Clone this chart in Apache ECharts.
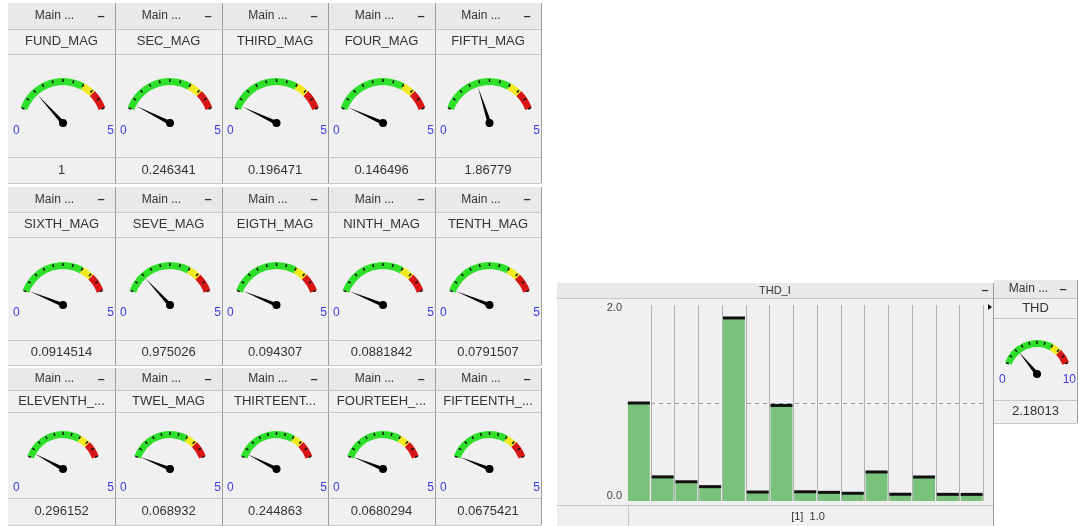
<!DOCTYPE html>
<html>
<head>
<meta charset="utf-8">
<script src="https://cdn.jsdelivr.net/npm/echarts@6/dist/echarts.min.js"></script>
<style>
  html, body { margin: 0; background: #fff; }
  #chart { width: 1078px; height: 526px; }
</style>
</head>
<body>
<div id="chart"></div>
<script>
// harmonic magnitudes (gauges + THD_I bars)
const magNames = ['FUND_MAG', 'SEC_MAG', 'THIRD_MAG', 'FOUR_MAG', 'FIFTH_MAG',
  'SIXTH_MAG', 'SEVE_MAG', 'EIGTH_MAG', 'NINTH_MAG', 'TENTH_MAG',
  'ELEVENTH_...', 'TWEL_MAG', 'THIRTEENT...', 'FOURTEEH_...', 'FIFTEENTH_...'];
const magValues = [1, 0.246341, 0.196471, 0.146496, 1.86779,
  0.0914514, 0.975026, 0.094307, 0.0881842, 0.0791507,
  0.296152, 0.068932, 0.244863, 0.0680294, 0.0675421];
const magMin = 0;
const magMax = 5;

const thdName = 'THD';
const thdValue = 2.18013;
const thdMax = 10;

const barTitle = 'THD_I';
const barCategories = ['1', '2', '3', '4', '5', '6', '7', '8', '9', '10', '11', '12', '13', '14', '15'];
const yTickLabels = ['0.0', '', '2.0'];
const footerText = '[1]  1.0';
const panelHeader = 'Main ...';

const FONT = '"Liberation Sans", Arial, sans-serif';
const BG = '#f0f0f0';
const HDR = '#e9e9e9';
const LINE = '#c6c6c6';
const BORDER = '#9c9c9c';
const LABEL_BLUE = '#3c3ce0';

// grid of gauge panels
const colX = [8, 115, 222, 328, 435, 541];
const rows = [
  { top: 3, hdr: 29, ttl: 54, val: 157, bot: 183, py: 123, r: 45, ly: 131 },
  { top: 187, hdr: 212, ttl: 237, val: 340, bot: 365, py: 305, r: 43, ly: 313 },
  { top: 368, hdr: 390, ttl: 412, val: 498, bot: 525, py: 469, r: 38, ly: 488 }
];

const graphics = [];
const series = [];

function txt(x, y, text, opts) {
  opts = opts || {};
  graphics.push({
    type: 'text', x: x, y: y, z: 10,
    style: {
      text: text,
      fill: opts.color || '#333',
      font: (opts.weight || 'normal') + ' ' + (opts.size || 12) + 'px ' + FONT,
      textAlign: opts.align || 'center', align: opts.align || 'center',
      textVerticalAlign: 'middle', verticalAlign: 'middle'
    }
  });
}
function rect(x0, y0, x1, y1, fill) {
  graphics.push({ type: 'rect', z: 0, shape: { x: x0, y: y0, width: x1 - x0, height: y1 - y0 }, style: { fill: fill } });
}
function hline(x0, x1, y, color) {
  graphics.push({ type: 'line', z: 1, shape: { x1: x0, y1: y, x2: x1, y2: y }, style: { stroke: color, lineWidth: 1 } });
}
function vline(x, y0, y1, color) {
  graphics.push({ type: 'line', z: 1, shape: { x1: x, y1: y0, x2: x, y2: y1 }, style: { stroke: color, lineWidth: 1 } });
}

function gaugePanel(x0, x1, row, name, value, max) {
  const cx = (x0 + x1) / 2;
  rect(x0, row.top, x1, row.bot, BG);
  rect(x0, row.top, x1, row.hdr, HDR);
  hline(x0, x1, row.hdr + 0.5, LINE);
  hline(x0, x1, row.ttl + 0.5, LINE);
  hline(x0, x1, row.val + 0.5, LINE);
  hline(x0, x1, row.bot + 0.5, LINE);
  vline(x1 + 0.5, row.top, row.bot, BORDER);
  txt(cx - 7, (row.top + row.hdr) / 2, panelHeader, { size: 12 });
  txt(x1 - 14, (row.top + row.hdr) / 2, '\u2013', { size: 13, weight: 'bold' });
  txt(x0 + 5, row.ly, String(magMin), { color: LABEL_BLUE, size: 12, align: 'left' });
  txt(x1 - 1, row.ly, String(max), { color: LABEL_BLUE, size: 12, align: 'right' });

  const px = cx + 1.5;
  const py = row.py;
  series.push({
    type: 'gauge',
    center: [px, py],
    radius: row.r,
    startAngle: 160,
    endAngle: 20,
    min: magMin,
    max: max,
    splitNumber: 10,
    animation: false,
    axisLine: {
      lineStyle: { width: 7, color: [[0.7, '#2ee02a'], [0.82, '#f0ea1e'], [1, '#d81616']] }
    },
    axisTick: { show: false },
    splitLine: { length: 3, distance: -6, lineStyle: { color: '#111', width: 1.5 } },
    axisLabel: { show: false },
    pointer: { icon: 'triangle', length: row.r * 0.84, width: 4, itemStyle: { color: '#000' } },
    anchor: { show: true, size: 8, showAbove: true, itemStyle: { color: '#000' } },
    title: {
      offsetCenter: [cx - px, (row.hdr + row.ttl) / 2 - py],
      fontSize: 13, color: '#333', fontFamily: FONT
    },
    detail: {
      offsetCenter: [cx - px, (row.val + row.bot) / 2 - py],
      fontSize: 13, fontWeight: 'normal', color: '#333', fontFamily: FONT,
      formatter: function (v) { return String(v); }
    },
    data: [{ value: value, name: name }]
  });
}

magNames.forEach(function (name, i) {
  const r = Math.floor(i / 5);
  const c = i % 5;
  gaugePanel(colX[c], colX[c + 1], rows[r], name, magValues[i], magMax);
});

// THD gauge panel
gaugePanel(994, 1077, { top: 280, hdr: 298, ttl: 318, val: 400, bot: 423, py: 374, r: 34, ly: 380 },
  thdName, thdValue, thdMax);

// THD_I bar panel chrome
const bx0 = 557, bx1 = 993;
rect(bx0, 283, bx1, 526, BG);
rect(bx0, 283, bx1, 298, HDR);
hline(bx0, bx1, 298.5, LINE);
hline(bx0, bx1, 505.5, LINE);
vline(628.5, 505, 526, LINE);
vline(bx1 + 0.5, 283, 526, BORDER);
txt(775, 291, barTitle, { size: 11 });
txt(985, 291, '\u2013', { size: 12, weight: 'bold' });
txt(808, 517, footerText, { size: 11 });
graphics.push({ type: 'polygon', z: 10, shape: { points: [[988, 304], [992, 307], [988, 310]] }, style: { fill: '#111' } });

const vLineColors = barCategories.map(function () { return '#b0b0b0'; });
vLineColors.unshift('rgba(0,0,0,0)');

series.push({
  type: 'bar',
  data: magValues,
  barCategoryGap: '8%',
  itemStyle: { color: '#79c27c' },
  animation: false
});
series.push({
  type: 'scatter',
  data: magValues,
  symbol: 'rect',
  symbolSize: [22, 3],
  itemStyle: { color: '#111', opacity: 1 },
  z: 4,
  animation: false
});

const chart = echarts.init(document.getElementById('chart'));
chart.setOption({
  backgroundColor: '#fff',
  animation: false,
  graphic: { elements: graphics },
  grid: { left: 627, right: 1078 - 983.5, top: 305, bottom: 526 - 501 },
  xAxis: {
    type: 'category',
    data: barCategories,
    boundaryGap: true,
    axisLine: { show: false },
    axisTick: { show: false },
    axisLabel: { show: false },
    splitLine: { show: true, interval: 0, lineStyle: { color: vLineColors, width: 1 } }
  },
  yAxis: {
    type: 'value',
    min: 0,
    max: 2,
    interval: 1,
    axisLine: { show: false },
    axisTick: { show: false },
    axisLabel: {
      margin: 5,
      formatter: function (v) {
        const s = yTickLabels[Math.round(v)];
        if (!s) return '';
        return v === 0 ? '{lo|' + s + '}' : '{hi|' + s + '}';
      },
      rich: {
        lo: { fontSize: 11, color: '#444', fontFamily: FONT, padding: [0, 0, 10, 0] },
        hi: { fontSize: 11, color: '#444', fontFamily: FONT, padding: [6, 0, 0, 0] }
      }
    },
    splitLine: {
      show: true,
      lineStyle: { color: ['rgba(0,0,0,0)', '#9a9a9a', 'rgba(0,0,0,0)'], type: [4, 4], width: 1 }
    }
  },
  series: series
});
</script>
</body>
</html>
